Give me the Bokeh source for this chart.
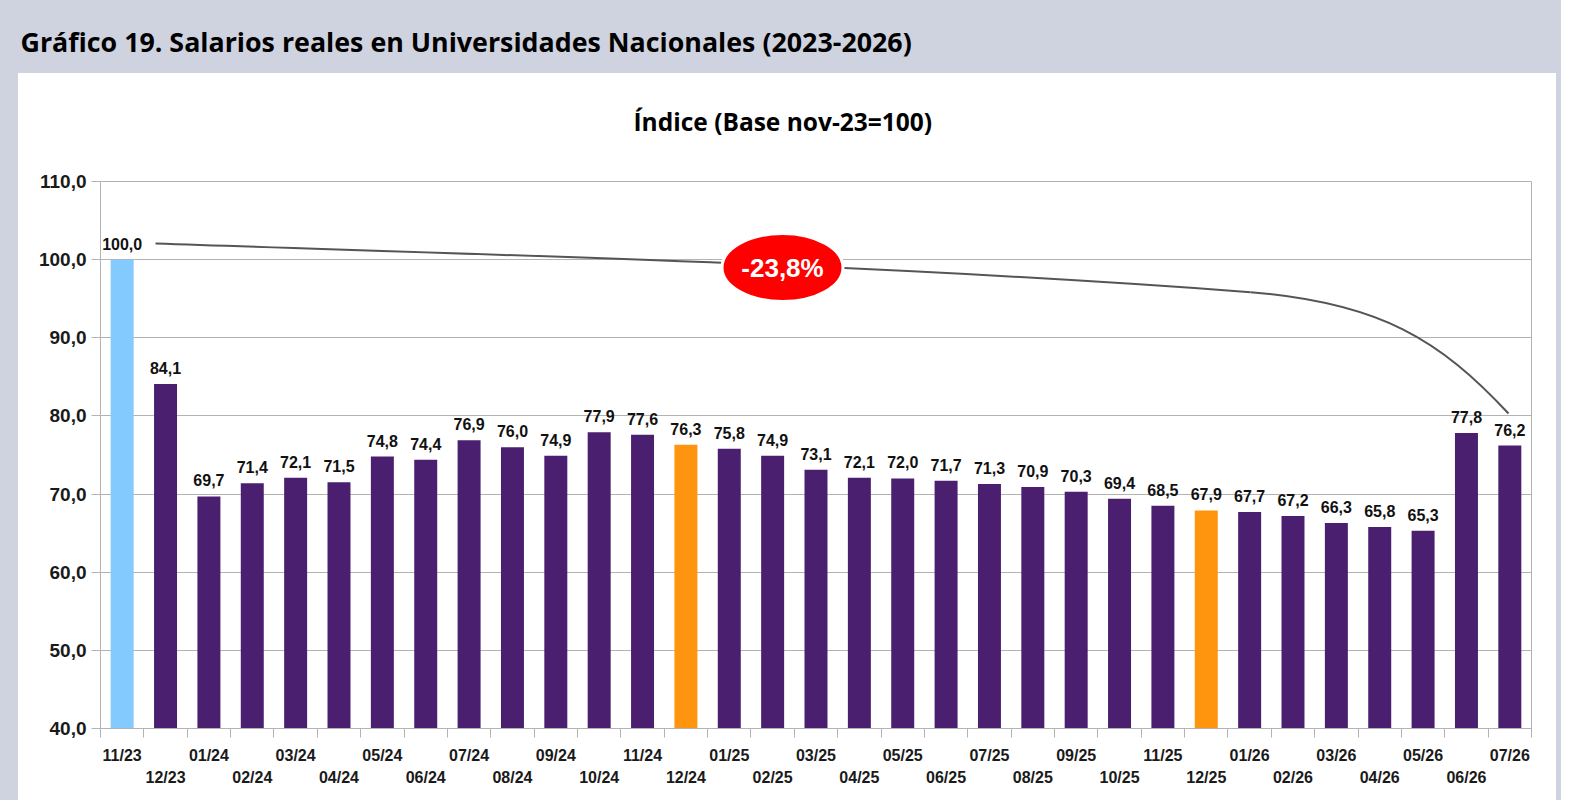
from bokeh.plotting import figure
from bokeh.models import (ColumnDataSource, Range1d, FixedTicker, LinearAxis, Label, Title)
from bokeh.core.properties import value
from bokeh.embed import file_html
from bokeh.resources import INLINE

# ---------------- data ----------------
months = ["11/23", "12/23",
          "01/24", "02/24", "03/24", "04/24", "05/24", "06/24",
          "07/24", "08/24", "09/24", "10/24", "11/24", "12/24",
          "01/25", "02/25", "03/25", "04/25", "05/25", "06/25",
          "07/25", "08/25", "09/25", "10/25", "11/25", "12/25",
          "01/26", "02/26", "03/26", "04/26", "05/26", "06/26", "07/26"]
values = [100.0, 84.1,
          69.7, 71.4, 72.1, 71.5, 74.8, 74.4,
          76.9, 76.0, 74.9, 77.9, 77.6, 76.3,
          75.8, 74.9, 73.1, 72.1, 72.0, 71.7,
          71.3, 70.9, 70.3, 69.4, 68.5, 67.9,
          67.7, 67.2, 66.3, 65.8, 65.3, 77.8, 76.2]
base_month = "11/23"
highlight_months = ["12/24", "12/25"]
y_ticks = [40, 50, 60, 70, 80, 90, 100, 110]
change_label = "-23,8%"
title_text = "Gráfico 19. Salarios reales en Universidades Nacionales (2023-2026)"
subtitle_text = "Índice (Base nov-23=100)"

# ---------------- styles ----------------
C_BASE = "#83CAFF"
C_MAIN = "#4B1F6F"
C_HL = "#FF950E"
C_GREY_BG = "#CFD3DF"
C_GRID = "#B3B3B3"
FONT = "Liberation Sans"

n = len(months)
xs = list(range(n))
colors = [C_BASE if m == base_month else (C_HL if m in highlight_months else C_MAIN) for m in months]
val_labels = [f"{v:.1f}".replace(".", ",") for v in values]
src = ColumnDataSource(dict(x=xs, top=values, color=colors, lab=val_labels))

W, H = 1561, 800
PANEL_L, PANEL_R, PANEL_T = 18, 1556, 73
FL, FR, FT, FB = 100, 1531, 181, 728     # frame edges in page px
X0, X1 = -0.5, n - 0.5
Y0, Y1 = 40, 110

page_bg = {
    "background-color": C_GREY_BG,
    "background-image": "linear-gradient(#ffffff, #ffffff)",
    "background-position": f"{PANEL_L}px {PANEL_T}px",
    "background-size": f"{PANEL_R - PANEL_L}px {H - PANEL_T}px",
    "background-repeat": "no-repeat",
}

p = figure(width=W, height=H, output_backend="svg", toolbar_location=None,
           x_range=Range1d(X0, X1), y_range=Range1d(Y0, Y1),
           min_border_left=FL, min_border_right=W - FR,
           min_border_top=FT, min_border_bottom=H - FB,
           background_fill_color="white", border_fill_color=None,
           outline_line_color=C_GRID, outline_line_width=1,
           styles=page_bg)

def fx(px):
    return X0 + (px - FL) / (FR - FL) * (X1 - X0)

def fy(py):
    return Y1 - (py - FT) / (FB - FT) * (Y1 - Y0)

# titles (first added = nearest the frame)
p.add_layout(Title(text=subtitle_text, align="left", offset=533, standoff=87,
                   vertical_align="bottom", text_font="Open Sans", text_font_style="bold",
                   text_font_size="24.5px", text_color="#000000"), "above")
p.add_layout(Title(text=title_text, align="left", offset=PANEL_L + 2 - FL, standoff=0,
                   vertical_align="bottom", text_font="Open Sans", text_font_style="bold",
                   text_font_size="26.8px", text_color="#000000"), "above")

p.xgrid.visible = False
p.ygrid.ticker = FixedTicker(ticks=y_ticks)
p.ygrid.grid_line_color = C_GRID

ya = p.yaxis[0]
ya.ticker = FixedTicker(ticks=y_ticks)
ya.major_label_overrides = {t: f"{t:.1f}".replace(".", ",") for t in y_ticks}
ya.axis_line_color = C_GRID
ya.major_tick_line_color = C_GRID
ya.major_tick_out = 9
ya.major_tick_in = 0
ya.minor_tick_line_color = None
ya.major_label_standoff = 5
ya.major_label_text_font = FONT
ya.major_label_text_font_style = "bold"
ya.major_label_text_font_size = "19px"
ya.major_label_text_color = "#1A1A1A"

xa = p.xaxis[0]
even = [i for i in xs if i % 2 == 0]
odd = [i for i in xs if i % 2 == 1]
xa.ticker = FixedTicker(ticks=even, minor_ticks=[i - 0.5 for i in range(n + 1)])
xa.major_label_overrides = {i: months[i] for i in even}
xa.axis_line_color = C_GRID
xa.major_tick_line_color = None
xa.major_tick_out = 0
xa.major_tick_in = 0
xa.minor_tick_line_color = C_GRID
xa.minor_tick_out = 9
xa.minor_tick_in = 0
xa.major_label_standoff = 9
xa.major_label_text_font = FONT
xa.major_label_text_font_style = "bold"
xa.major_label_text_font_size = "16px"
xa.major_label_text_color = "#1A1A1A"

xb = LinearAxis(ticker=FixedTicker(ticks=odd, minor_ticks=[]),
                major_label_overrides={i: months[i] for i in odd})
xb.axis_line_color = None
xb.major_tick_line_color = None
xb.minor_tick_line_color = None
xb.major_tick_out = 0
xb.major_tick_in = 0
xb.major_label_standoff = 2
xb.major_label_text_font = FONT
xb.major_label_text_font_style = "bold"
xb.major_label_text_font_size = "16px"
xb.major_label_text_color = "#1A1A1A"
p.add_layout(xb, "below")

p.vbar(x="x", top="top", bottom=Y0, width=0.53, source=src,
       fill_color="color", line_color=None)

p.text(x="x", y="top", text="lab", source=src, text_align="center",
       text_baseline="alphabetic", y_offset=-16, text_font=value(FONT),
       text_font_style="bold", text_font_size="16px", text_color="#111111")

# connector curve (annotation)
segs = [((155, 243), (520, 255.4), (885, 264), (1250, 291.7)),
        ((1250, 291.7), (1380, 302), (1440, 340), (1508, 413))]
p.bezier(x0=[fx(s[0][0]) for s in segs], y0=[fy(s[0][1]) for s in segs],
         cx0=[fx(s[1][0]) for s in segs], cy0=[fy(s[1][1]) for s in segs],
         cx1=[fx(s[2][0]) for s in segs], cy1=[fy(s[2][1]) for s in segs],
         x1=[fx(s[3][0]) for s in segs], y1=[fy(s[3][1]) for s in segs],
         line_color="#555555", line_width=2)

ex, ey = fx(782), fy(267)
p.ellipse(x=[ex], y=[ey], width=[121], height=[68], width_units="screen",
          height_units="screen", fill_color="#FF0000", line_color="white", line_width=3)
p.add_layout(Label(x=ex, y=ey, text=change_label, text_align="center",
                   text_baseline="middle", text_font=FONT, text_font_style="bold",
                   text_font_size="26px", text_color="white"))

open("out.html", "w").write(file_html(p, INLINE))
